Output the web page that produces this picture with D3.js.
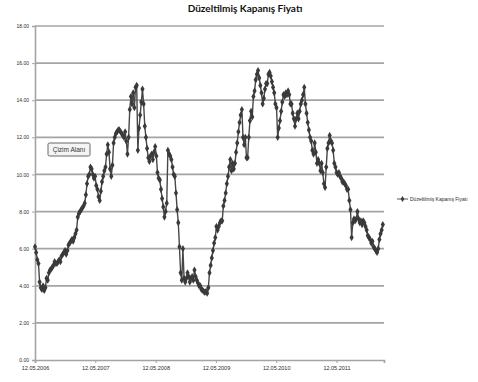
<!DOCTYPE html>
<html>
<head>
<meta charset="utf-8">
<script src="https://cdn.jsdelivr.net/npm/d3@7"></script>
<style>
  body { margin: 0; background: #fff; }
  svg { display: block; }
</style>
</head>
<body>
<svg id="chart" width="478" height="382"></svg>
<script>
// Weekly adjusted closing prices, starting 12.05.2006
const seriesName = "Düzeltilmiş Kapanış Fiyatı";
const firstWeek = "2006-05-12";
const axisEnd = "2012-02-24";
const weeklyClose = [
  6.1, 5.8, 5.4, 5.2, 4.2, 3.9, 3.8, 4.0, 3.75, 3.9,
  4.4, 4.3, 4.7, 4.85, 4.9, 5.0, 5.1, 5.3, 5.2, 5.2,
  5.3, 5.4, 5.3, 5.6, 5.7, 5.8, 5.9, 5.7, 5.9, 6.2,
  6.3, 6.4, 6.5, 6.4, 6.6, 6.8, 7.0, 7.7, 7.9, 8.0,
  8.1, 8.2, 8.3, 8.45, 8.9, 9.5, 9.9, 10.0, 10.4, 10.3,
  10.0, 9.8, 9.9, 9.4, 9.2, 8.8, 8.6, 9.1, 9.6, 9.9,
  10.2, 10.4, 11.1, 11.6, 11.2, 10.3, 9.9, 10.5, 11.7, 12.0,
  12.2, 12.3, 12.4, 12.4, 12.3, 12.2, 12.1, 12.0, 12.3, 11.8,
  11.1, 12.0, 13.5, 14.2, 13.8, 14.4, 13.6, 14.7, 14.8, 11.3,
  12.5, 13.2, 13.9, 14.6, 13.8, 12.6, 12.0, 11.4, 10.9, 10.7,
  11.0, 11.1, 10.8, 11.2, 11.5, 11.0, 10.1, 9.8, 9.7, 9.2,
  8.7, 8.25, 7.7, 8.0, 8.45, 11.3, 11.1, 11.0, 10.8, 10.4,
  10.0, 9.9, 9.0, 8.1, 7.4, 6.1, 4.7, 4.3, 6.0, 4.4,
  4.2, 4.4, 4.7, 4.5, 4.2, 4.4, 4.5, 4.3, 4.85, 4.5,
  4.3, 4.15, 4.0, 4.0, 3.8, 3.77, 3.7, 3.65, 3.7, 3.6,
  3.9, 4.7, 5.1, 5.5, 5.9, 6.3, 6.6, 7.2, 7.0, 7.2,
  7.4, 7.5, 7.5, 8.3, 8.6, 9.0, 9.5, 9.9, 10.4, 10.8,
  10.2, 10.6, 10.3, 10.6, 11.2, 11.7, 12.3, 12.8, 13.2, 13.5,
  12.0, 11.6, 12.0, 10.9, 10.9, 12.0, 12.9, 13.4, 13.1, 14.2,
  14.5, 15.1, 15.4, 15.6, 15.2, 14.8, 14.4, 13.8, 14.1, 14.6,
  14.9, 14.9, 15.4, 15.5, 15.3, 15.0, 14.7, 14.4, 13.8, 13.6,
  12.0, 12.5, 12.9, 13.4, 13.9, 14.3, 14.2, 14.4, 14.3, 14.5,
  14.3, 13.8, 13.8, 13.3, 13.0, 12.6, 13.0, 13.3, 13.0, 13.4,
  13.8, 14.0, 14.3, 14.7, 13.8, 13.3, 12.8, 12.4, 12.0, 11.8,
  11.3, 11.1, 11.7, 11.2, 10.6, 10.8, 10.6, 10.2, 10.6, 10.1,
  9.5, 9.3, 10.4, 11.4, 11.7, 12.1, 11.8, 11.7, 11.3, 10.6,
  10.4, 10.1, 10.0, 10.1, 9.9, 9.8, 9.6, 9.6, 9.5, 9.4,
  9.2, 9.2, 8.6, 8.1, 6.6, 7.4, 7.6, 7.5, 7.6, 8.0,
  7.6, 7.4, 7.5, 7.3, 7.5, 7.4, 7.2, 7.0, 6.7, 6.6,
  6.5, 6.3, 6.4, 6.1, 6.0, 5.9, 5.8, 6.0, 6.5, 6.8,
  7.0, 7.3
];
const yTicks = [0, 2, 4, 6, 8, 10, 12, 14, 16, 18];
const xTickDates = ["2006-05-12", "2007-05-12", "2008-05-12", "2009-05-12", "2010-05-12", "2011-05-12"];
const plotAreaLabel = "Çizim Alanı";

const parse = d3.utcParse("%Y-%m-%d");
const start = parse(firstWeek);
const data = weeklyClose.map((v, i) => ({ date: d3.utcDay.offset(start, 7 * i), value: v }));

const svg = d3.select("#chart");
const plot = { left: 35, right: 384, top: 26, bottom: 360 };

const x = d3.scaleUtc()
  .domain([start, parse(axisEnd)])
  .range([plot.left, plot.right]);
const y = d3.scaleLinear()
  .domain([0, 18])
  .range([plot.bottom, plot.top]);

const gridColor = "#a4a4a4";
const inkColor = "#3a3a3a";
const labelColor = "#2a2a2a";

// Horizontal gridlines + value axis
const yAxis = d3.axisLeft(y)
  .tickValues(yTicks)
  .tickFormat(d3.format(".2f"))
  .tickSize(3)
  .tickPadding(3);
const gy = svg.append("g")
  .attr("transform", `translate(${plot.left},0)`)
  .call(yAxis);
gy.select(".domain").attr("stroke", gridColor).attr("stroke-width", 1.6);
gy.selectAll(".tick line").attr("stroke", gridColor);
gy.selectAll(".tick text")
  .attr("fill", labelColor)
  .style("font-family", "'Liberation Sans', Arial, sans-serif")
  .style("font-size", "5px");

svg.append("g")
  .selectAll("line")
  .data(yTicks.filter(d => d > 0))
  .join("line")
  .attr("x1", plot.left)
  .attr("x2", plot.right)
  .attr("y1", d => y(d))
  .attr("y2", d => y(d))
  .attr("stroke", gridColor)
  .attr("stroke-width", 1.7);

// Date axis
const fmtDate = d3.utcFormat("%d.%m.%Y");
const xAxis = d3.axisBottom(x)
  .tickValues(xTickDates.map(parse))
  .tickFormat(fmtDate)
  .tickSize(3)
  .tickPadding(3);
const gx = svg.append("g")
  .attr("transform", `translate(0,${plot.bottom})`)
  .call(xAxis);
gx.select(".domain").attr("stroke", gridColor).attr("stroke-width", 1.7);
gx.selectAll(".tick line").attr("stroke", gridColor);
gx.selectAll(".tick text")
  .attr("fill", labelColor)
  .style("font-family", "'Liberation Sans', Arial, sans-serif")
  .style("font-size", "5.5px");

// Price line with diamond markers
const line = d3.line()
  .x(d => x(d.date))
  .y(d => y(d.value));
svg.append("path")
  .datum(data)
  .attr("fill", "none")
  .attr("stroke", "#474747")
  .attr("stroke-width", 1.4)
  .attr("d", line);

const diamond = d3.symbol(d3.symbolDiamond, 15);
svg.append("g")
  .selectAll("path")
  .data(data)
  .join("path")
  .attr("transform", d => `translate(${x(d.date)},${y(d.value)})`)
  .attr("d", diamond)
  .attr("fill", inkColor);

// Title
svg.append("text")
  .attr("x", 245)
  .attr("y", 12)
  .attr("text-anchor", "middle")
  .style("font-family", "Lato, 'Liberation Sans', sans-serif")
  .style("font-weight", "bold")
  .style("font-size", "10px")
  .attr("fill", "#111")
  .text(seriesName);

// Legend
const lg = svg.append("g").attr("transform", "translate(397,199)");
lg.append("line").attr("x1", 0).attr("x2", 11).attr("stroke", "#555").attr("stroke-width", 1);
lg.append("path").attr("transform", "translate(5.5,0)").attr("d", d3.symbol(d3.symbolDiamond, 11)).attr("fill", inkColor);
lg.append("text")
  .attr("x", 13)
  .attr("dy", "0.35em")
  .style("font-family", "'Liberation Sans', Arial, sans-serif")
  .style("font-size", "5px")
  .attr("fill", labelColor)
  .text(seriesName);

// Plot-area tag
const tag = svg.append("g").attr("transform", "translate(48,143)");
tag.append("rect")
  .attr("width", 42)
  .attr("height", 13)
  .attr("rx", 1.5)
  .attr("fill", "#f4f4f4")
  .attr("stroke", "#666")
  .attr("stroke-width", 1);
tag.append("text")
  .attr("x", 21)
  .attr("y", 6.5)
  .attr("dy", "0.35em")
  .attr("text-anchor", "middle")
  .style("font-family", "'Liberation Sans', Arial, sans-serif")
  .style("font-size", "6.5px")
  .attr("fill", "#333")
  .text(plotAreaLabel);
</script>
</body>
</html>
